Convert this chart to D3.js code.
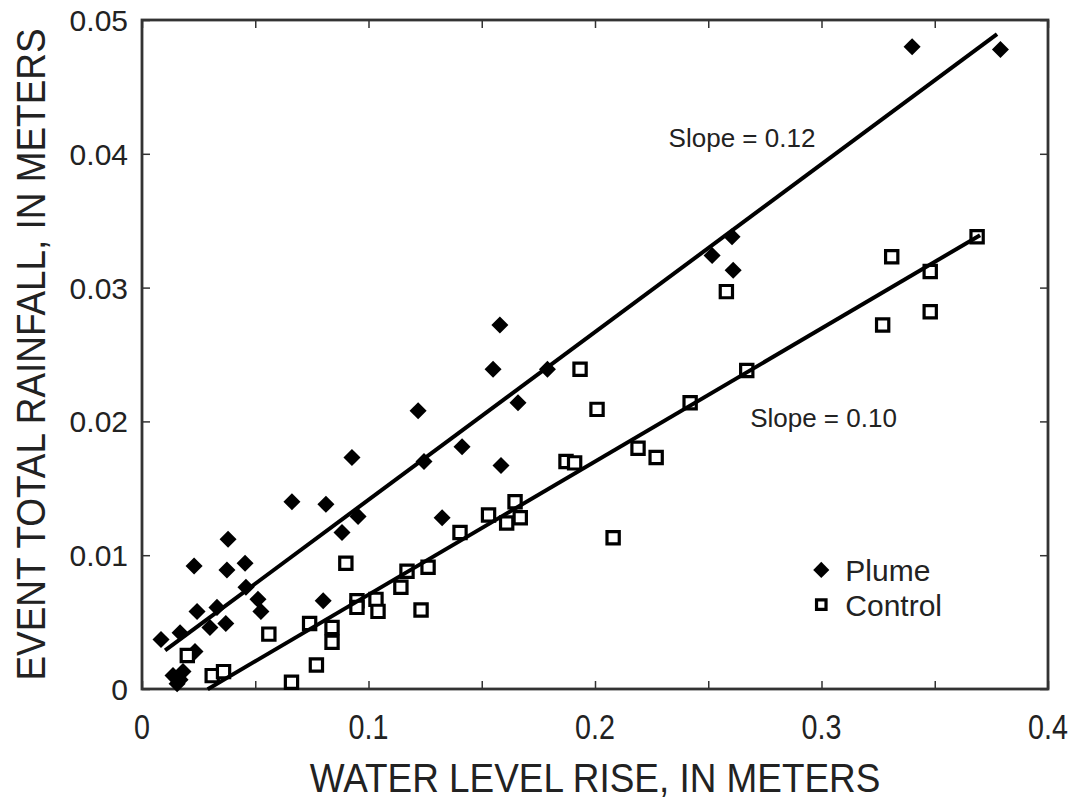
<!DOCTYPE html>
<html>
	<head>
		<script src="https://cdnjs.cloudflare.com/ajax/libs/d3/7.8.5/d3.min.js"></script>
		<style>
			body{ margin:0; background:#fff; }
			text{ font-family:"Liberation Sans", Arial, sans-serif; fill:#222; }
			.frame{ fill:none; stroke:#333; stroke-width:2.8px; }
			.axis path{ display:none; }
			.axis line{ stroke:#333; stroke-width:1.5px; }
		</style>
	</head>
	<body>
		<svg width="1073" height="799"></svg>
		<script>
			// values: [water level rise (m), event rainfall (m)]
			var plume = [
				[0.379, 0.0478], [0.340, 0.0480], [0.2517, 0.0324], [0.2605, 0.0338], [0.261, 0.0313],
				[0.158, 0.0272], [0.155, 0.0239], [0.179, 0.0239], [0.166, 0.0214], [0.1219, 0.0208],
				[0.1245, 0.0170], [0.1413, 0.0181], [0.1585, 0.0167], [0.1325, 0.0128], [0.0927, 0.0173],
				[0.0954, 0.0129], [0.0883, 0.0117], [0.0662, 0.0140], [0.0812, 0.0138], [0.0380, 0.0112],
				[0.0230, 0.0092], [0.0375, 0.0089], [0.0455, 0.0094], [0.0459, 0.0076], [0.0512, 0.0067],
				[0.0525, 0.0058], [0.0243, 0.0058], [0.0331, 0.0061], [0.0300, 0.0046], [0.0370, 0.0049],
				[0.0084, 0.0037], [0.0168, 0.0042], [0.0800, 0.0066], [0.0234, 0.0028], [0.0137, 0.0010],
				[0.0168, 0.0007], [0.0181, 0.0013], [0.0155, 0.0004]
			];
			var control = [
				[0.3687, 0.0338], [0.331, 0.0323], [0.348, 0.0312], [0.348, 0.0282], [0.327, 0.0272],
				[0.267, 0.0238], [0.258, 0.0297], [0.242, 0.0214], [0.1934, 0.0239], [0.2009, 0.0209],
				[0.219, 0.0180], [0.227, 0.0173], [0.1872, 0.0170], [0.191, 0.0169], [0.208, 0.0113],
				[0.1647, 0.0140], [0.167, 0.0128], [0.161, 0.0124], [0.153, 0.0130], [0.1404, 0.0117],
				[0.090, 0.0094], [0.117, 0.0088], [0.1263, 0.0091], [0.1143, 0.0076], [0.0949, 0.0066],
				[0.1033, 0.0067], [0.0949, 0.0061], [0.1042, 0.0058], [0.1232, 0.0059], [0.0839, 0.0046],
				[0.0839, 0.0035], [0.056, 0.0041], [0.074, 0.0049], [0.077, 0.0018], [0.066, 0.0005],
				[0.031, 0.0010], [0.036, 0.0013], [0.020, 0.0025]
			];
			// fitted lines: slope, intercept, x extent
			var plumeFit = {slope: 0.1254, intercept: 0.0016, x: [0.0102, 0.3775]};
			var controlFit = {slope: 0.0995, intercept: -0.0029, x: [0.029, 0.370]};

			var xTicks = [0, 0.05, 0.1, 0.15, 0.2, 0.25, 0.3, 0.35, 0.4];
			var xTickLabels = ["0", "", "0.1", "", "0.2", "", "0.3", "", "0.4"];
			var yTicks = [0, 0.01, 0.02, 0.03, 0.04, 0.05];
			var yTickLabels = ["0", "0.01", "0.02", "0.03", "0.04", "0.05"];
			var slopeLabels = ["Slope = 0.12", "Slope = 0.10"];
			var legendLabels = ["Plume", "Control"];

			var svg = d3.select("svg");
			var m = {left: 142, top: 20}, w = 906, h = 669;
			var g = svg.append("g").attr("transform", "translate(" + m.left + "," + m.top + ")");

			var x = d3.scaleLinear().domain([0, 0.4]).range([0, w]);
			var y = d3.scaleLinear().domain([0, 0.05]).range([h, 0]);

			// inward ticks on all four sides
			var blank = function(){ return ""; };
			g.append("g").attr("class", "axis").attr("transform", "translate(0," + h + ")")
				.call(d3.axisBottom(x).tickValues(xTicks).tickSize(-8).tickFormat(blank));
			g.append("g").attr("class", "axis")
				.call(d3.axisTop(x).tickValues(xTicks).tickSize(-8).tickFormat(blank));
			g.append("g").attr("class", "axis")
				.call(d3.axisLeft(y).tickValues(yTicks).tickSize(-8).tickFormat(blank));
			g.append("g").attr("class", "axis").attr("transform", "translate(" + w + ",0)")
				.call(d3.axisRight(y).tickValues(yTicks).tickSize(-8).tickFormat(blank));

			g.append("rect").attr("class", "frame").attr("width", w).attr("height", h);

			// tick labels
			g.selectAll(".xlab").data(xTicks).enter().append("text")
				.attr("class", "xlab")
				.attr("text-anchor", "middle")
				.attr("font-size", 35)
				.attr("transform", function(d){ return "translate(" + x(d) + "," + (h + 50) + ") scale(0.82,1)"; })
				.text(function(d, i){ return xTickLabels[i]; });
			g.selectAll(".ylab").data(yTicks).enter().append("text")
				.attr("class", "ylab")
				.attr("text-anchor", "end")
				.attr("font-size", 30)
				.attr("x", -14)
				.attr("y", function(d){ return y(d) + 11; })
				.text(function(d, i){ return yTickLabels[i]; });

			// axis titles
			svg.append("text")
				.attr("text-anchor", "middle")
				.attr("font-size", 41)
				.attr("transform", "translate(" + (m.left + w / 2) + ",792) scale(0.9,1)")
				.text("WATER LEVEL RISE, IN METERS");
			svg.append("text")
				.attr("text-anchor", "middle")
				.attr("font-size", 41)
				.attr("transform", "translate(45," + (m.top + h / 2) + ") rotate(-90) scale(0.9,1)")
				.text("EVENT TOTAL RAINFALL, IN METERS");

			// points
			var diamond = d3.symbol().type(d3.symbolSquare).size(145);
			var square = d3.symbol().type(d3.symbolSquare).size(150);
			g.selectAll(".plume").data(plume).enter().append("path")
				.attr("class", "plume")
				.attr("d", diamond)
				.attr("fill", "#000")
				.attr("transform", function(d){ return "translate(" + x(d[0]) + "," + y(d[1]) + ") rotate(45)"; });
			g.selectAll(".control").data(control).enter().append("path")
				.attr("class", "control")
				.attr("d", square)
				.attr("fill", "#fff")
				.attr("stroke", "#000")
				.attr("stroke-width", 3.2)
				.attr("transform", function(d){ return "translate(" + x(d[0]) + "," + y(d[1]) + ")"; });

			// regression lines
			var line = d3.line().x(function(d){ return x(d); });
			[plumeFit, controlFit].forEach(function(f){
				g.append("path")
					.attr("fill", "none")
					.attr("stroke", "#000")
					.attr("stroke-width", 4)
					.attr("d", line.y(function(d){ return y(f.slope * d + f.intercept); })(f.x));
			});

			// slope annotations
			g.append("text").attr("font-size", 26).attr("x", x(0.2325)).attr("y", y(0.0405)).text(slopeLabels[0]);
			g.append("text").attr("font-size", 26).attr("x", x(0.2685)).attr("y", y(0.0196)).text(slopeLabels[1]);

			// legend
			var lg = g.append("g");
			lg.append("path").attr("d", d3.symbol().type(d3.symbolSquare).size(130))
				.attr("transform", "translate(" + x(0.2999) + "," + y(0.0089) + ") rotate(45)");
			lg.append("path").attr("d", d3.symbol().type(d3.symbolSquare).size(90))
				.attr("fill", "#fff").attr("stroke", "#000").attr("stroke-width", 3.2)
				.attr("transform", "translate(" + x(0.2999) + "," + y(0.0063) + ")");
			lg.selectAll(".leg").data(legendLabels).enter().append("text")
				.attr("class", "leg")
				.attr("font-size", 30)
				.attr("x", x(0.3105))
				.attr("y", function(d, i){ return y(i == 0 ? 0.0089 : 0.0063) + 11; })
				.text(function(d){ return d; });
		</script>
	</body>
</html>
